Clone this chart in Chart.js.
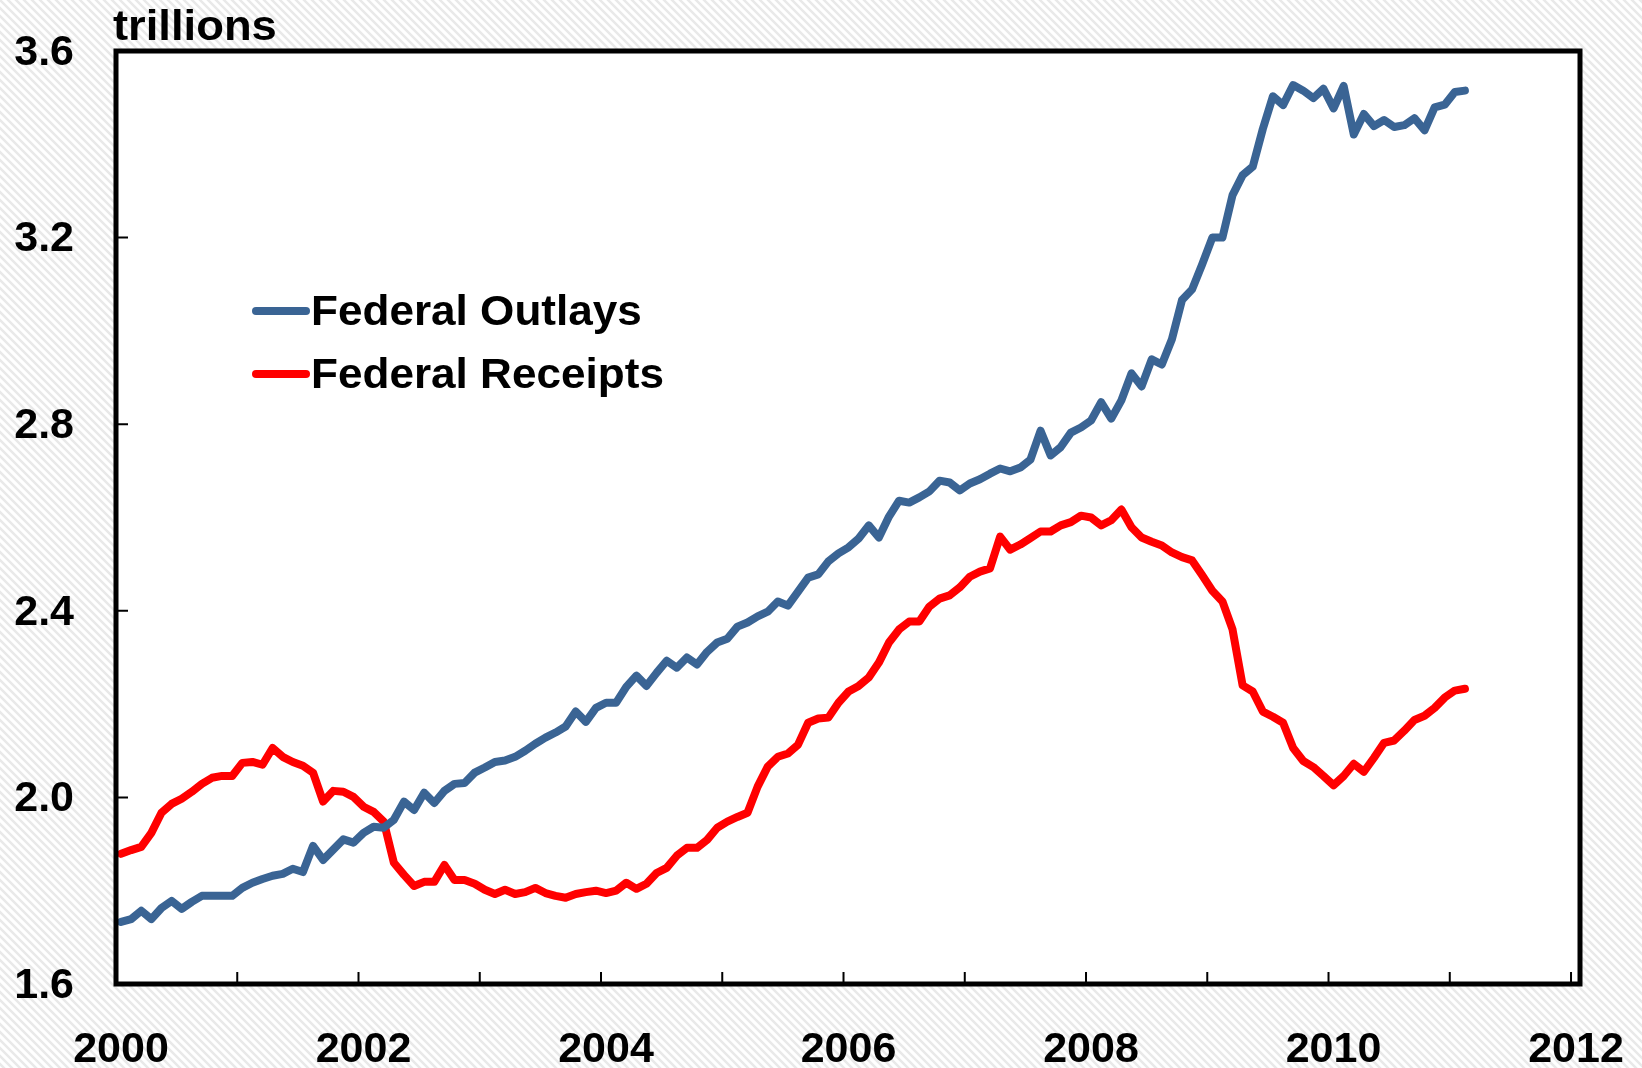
<!DOCTYPE html>
<html>
<head>
<meta charset="utf-8">
<title>Federal Outlays and Receipts</title>
<script src="https://cdn.jsdelivr.net/npm/chart.js@4.4.1/dist/chart.umd.min.js"></script>
<style>
	html, body { margin: 0; padding: 0; background: #fff; }
	canvas { display: block; }
</style>
</head>
<body>
<canvas id="myChart" width="1642" height="1068"></canvas>
<script>
// monthly 12-month totals, trillions of dollars, Jan 2000 - Feb 2011
const startYear = 2000
const outlays = [
	1.733, 1.739, 1.757, 1.739, 1.763, 1.778, 1.761, 1.776, 1.789, 1.789, 1.789, 1.789,
	1.806, 1.817, 1.825, 1.832, 1.836, 1.847, 1.840, 1.896, 1.866, 1.888, 1.910, 1.903,
	1.924, 1.937, 1.935, 1.952, 1.991, 1.973, 2.010, 1.988, 2.014, 2.029, 2.031, 2.053,
	2.064, 2.076, 2.079, 2.087, 2.100, 2.115, 2.128, 2.139, 2.152, 2.184, 2.162, 2.192,
	2.203, 2.203, 2.237, 2.261, 2.239, 2.267, 2.293, 2.278, 2.300, 2.285, 2.312, 2.332,
	2.340, 2.366, 2.375, 2.388, 2.398, 2.420, 2.411, 2.441, 2.471, 2.478, 2.506, 2.523,
	2.536, 2.555, 2.583, 2.557, 2.602, 2.636, 2.632, 2.643, 2.656, 2.679, 2.675, 2.658,
	2.673, 2.682, 2.694, 2.705, 2.699, 2.707, 2.724, 2.786, 2.733, 2.751, 2.782, 2.793,
	2.808, 2.847, 2.812, 2.851, 2.909, 2.881, 2.939, 2.928, 2.982, 3.066, 3.089, 3.143,
	3.200, 3.200, 3.291, 3.334, 3.352, 3.433, 3.503, 3.484, 3.527, 3.515, 3.499, 3.519,
	3.477, 3.525, 3.421, 3.465, 3.439, 3.452, 3.437, 3.441, 3.456, 3.430, 3.479, 3.485,
	3.512, 3.515
]
const receipts = [
	1.879, 1.887, 1.894, 1.924, 1.967, 1.986, 1.997, 2.012, 2.029, 2.042, 2.046, 2.046,
	2.074, 2.076, 2.070, 2.106, 2.087, 2.076, 2.068, 2.053, 1.991, 2.014, 2.012, 2.001,
	1.980, 1.969, 1.948, 1.860, 1.834, 1.810, 1.819, 1.819, 1.855, 1.823, 1.823, 1.815,
	1.802, 1.793, 1.802, 1.793, 1.797, 1.806, 1.795, 1.789, 1.785, 1.793, 1.797, 1.800,
	1.795, 1.800, 1.817, 1.804, 1.815, 1.838, 1.849, 1.875, 1.892, 1.892, 1.909, 1.935,
	1.948, 1.958, 1.967, 2.023, 2.066, 2.087, 2.094, 2.113, 2.160, 2.169, 2.171, 2.203,
	2.227, 2.239, 2.257, 2.289, 2.332, 2.360, 2.377, 2.377, 2.409, 2.426, 2.433, 2.450,
	2.473, 2.484, 2.491, 2.559, 2.531, 2.542, 2.556, 2.570, 2.570, 2.583, 2.590, 2.604,
	2.600, 2.583, 2.594, 2.617, 2.579, 2.557, 2.548, 2.540, 2.525, 2.515, 2.508, 2.476,
	2.443, 2.420, 2.360, 2.240, 2.227, 2.184, 2.173, 2.160, 2.106, 2.078, 2.065, 2.046,
	2.026, 2.046, 2.072, 2.055, 2.085, 2.117, 2.122, 2.143, 2.166, 2.175, 2.192, 2.214,
	2.229, 2.233
]
const yearTicks = [2000, 2001, 2002, 2003, 2004, 2005, 2006, 2007, 2008, 2009, 2010, 2011, 2012]
const valueTicks = [1.6, 2.0, 2.4, 2.8, 3.2, 3.6]
const seriesNames = ['Federal Outlays', 'Federal Receipts']
const unitLabel = 'trillions'

const blue = '#3A6494'
const red = '#FF0000'
const fontFamily = '"Liberation Sans", Arial, sans-serif'

// points sit mid-month on the time axis
function toPoints(values) {
	return values.map((v, i) => ({ x: startYear + (i + 0.5) / 12, y: v }))
}

function makeHatch() {
	const p = document.createElement('canvas')
	p.width = 8
	p.height = 8
	const c = p.getContext('2d')
	c.fillStyle = '#fff'
	c.fillRect(0, 0, 8, 8)
	c.strokeStyle = '#e9e9e9'
	c.lineWidth = 2.5
	c.beginPath()
	c.moveTo(-2, -2); c.lineTo(10, 10)
	c.moveTo(-2, 6); c.lineTo(2, 10)
	c.moveTo(6, -2); c.lineTo(10, 2)
	c.stroke()
	return p
}

// text drawn a little wider, the source fonts are stretched
function wideText(ctx, text, x, y, stretch) {
	ctx.save()
	ctx.translate(x, y)
	ctx.scale(stretch, 1)
	ctx.fillText(text, 0, 0)
	ctx.restore()
}

const backgroundPlugin = {
	id: 'background',
	beforeDraw(chart) {
		const ctx = chart.ctx
		const a = chart.chartArea
		ctx.save()
		ctx.fillStyle = ctx.createPattern(makeHatch(), 'repeat')
		ctx.fillRect(0, 0, chart.width, chart.height)
		ctx.fillStyle = '#fff'
		ctx.fillRect(a.left, a.top, a.right - a.left, a.bottom - a.top)
		ctx.restore()
	}
}

const framePlugin = {
	id: 'frame',
	afterDatasetsDraw(chart) {
		const ctx = chart.ctx
		const a = chart.chartArea
		const xs = chart.scales.x
		const ys = chart.scales.y
		ctx.save()
		ctx.strokeStyle = '#000'
		ctx.lineWidth = 2
		ctx.beginPath()
		yearTicks.forEach(v => {
			const px = xs.getPixelForValue(v)
			ctx.moveTo(px, a.bottom)
			ctx.lineTo(px, a.bottom - 12)
		})
		valueTicks.forEach(v => {
			const py = ys.getPixelForValue(v)
			ctx.moveTo(a.left, py)
			ctx.lineTo(a.left + 12, py)
		})
		ctx.stroke()

		ctx.lineWidth = 5
		ctx.strokeRect(a.left, a.top, a.right - a.left, a.bottom - a.top)

		// unit label over the axis
		ctx.fillStyle = '#000'
		ctx.font = 'bold 42px ' + fontFamily
		ctx.textAlign = 'left'
		ctx.textBaseline = 'alphabetic'
		wideText(ctx, unitLabel, 113, 40, 1.08)

		// legend
		const colors = [blue, red]
		ctx.lineCap = 'round'
		ctx.lineWidth = 8
		ctx.font = 'bold 42px ' + fontFamily
		ctx.textBaseline = 'middle'
		seriesNames.forEach((name, i) => {
			const ly = 311 + i * 63
			ctx.strokeStyle = colors[i]
			ctx.beginPath()
			ctx.moveTo(256, ly)
			ctx.lineTo(306, ly)
			ctx.stroke()
			wideText(ctx, name, 311, ly + 2, 1.05)
		})
		ctx.restore()
	}
}

const data = {
	datasets: [
		{
			label: seriesNames[0],
			data: toPoints(outlays),
			borderColor: blue,
			borderWidth: 8,
			borderJoinStyle: 'round',
			borderCapStyle: 'round',
			pointRadius: 0,
			fill: false
		}, {
			label: seriesNames[1],
			data: toPoints(receipts),
			borderColor: red,
			borderWidth: 8,
			borderJoinStyle: 'round',
			borderCapStyle: 'round',
			pointRadius: 0,
			fill: false
		}
	]
}

const config = {
	type: 'line',
	data: data,
	options: {
		responsive: false,
		animation: false,
		devicePixelRatio: 1,
		layout: {
			padding: { top: 51, right: 62, left: 0, bottom: 0 }
		},
		plugins: {
			legend: { display: false },
			tooltip: { enabled: false }
		},
		scales: {
			x: {
				type: 'linear',
				min: 2000,
				max: 2012.074,
				border: { display: false },
				grid: { display: false, drawTicks: false },
				afterBuildTicks: (scale) => {
					scale.ticks = yearTicks.map(v => ({ value: v }))
				},
				afterFit: (scale) => {
					scale.height = 84
					scale.paddingLeft = 0
					scale.paddingRight = 0
				},
				ticks: {
					autoSkip: false,
					maxRotation: 0,
					padding: 40,
					labelOffset: 5,
					color: '#000',
					font: { family: fontFamily, size: 43, weight: 'bold' },
					callback: (v) => (v % 2 === 0 ? String(v) : '')
				}
			},
			y: {
				min: 1.6,
				max: 3.6,
				border: { display: false },
				grid: { display: false, drawTicks: false },
				afterBuildTicks: (scale) => {
					scale.ticks = valueTicks.map(v => ({ value: v }))
				},
				afterFit: (scale) => {
					scale.width = 116
					scale.paddingTop = 0
					scale.paddingBottom = 0
				},
				ticks: {
					padding: 42,
					labelOffset: 2,
					color: '#000',
					font: { family: fontFamily, size: 43, weight: 'bold' },
					callback: (v) => v.toFixed(1)
				}
			}
		}
	},
	plugins: [backgroundPlugin, framePlugin]
}

const ctx = document.getElementById('myChart').getContext('2d')
let myChart = new Chart(ctx, config)
</script>
</body>
</html>
